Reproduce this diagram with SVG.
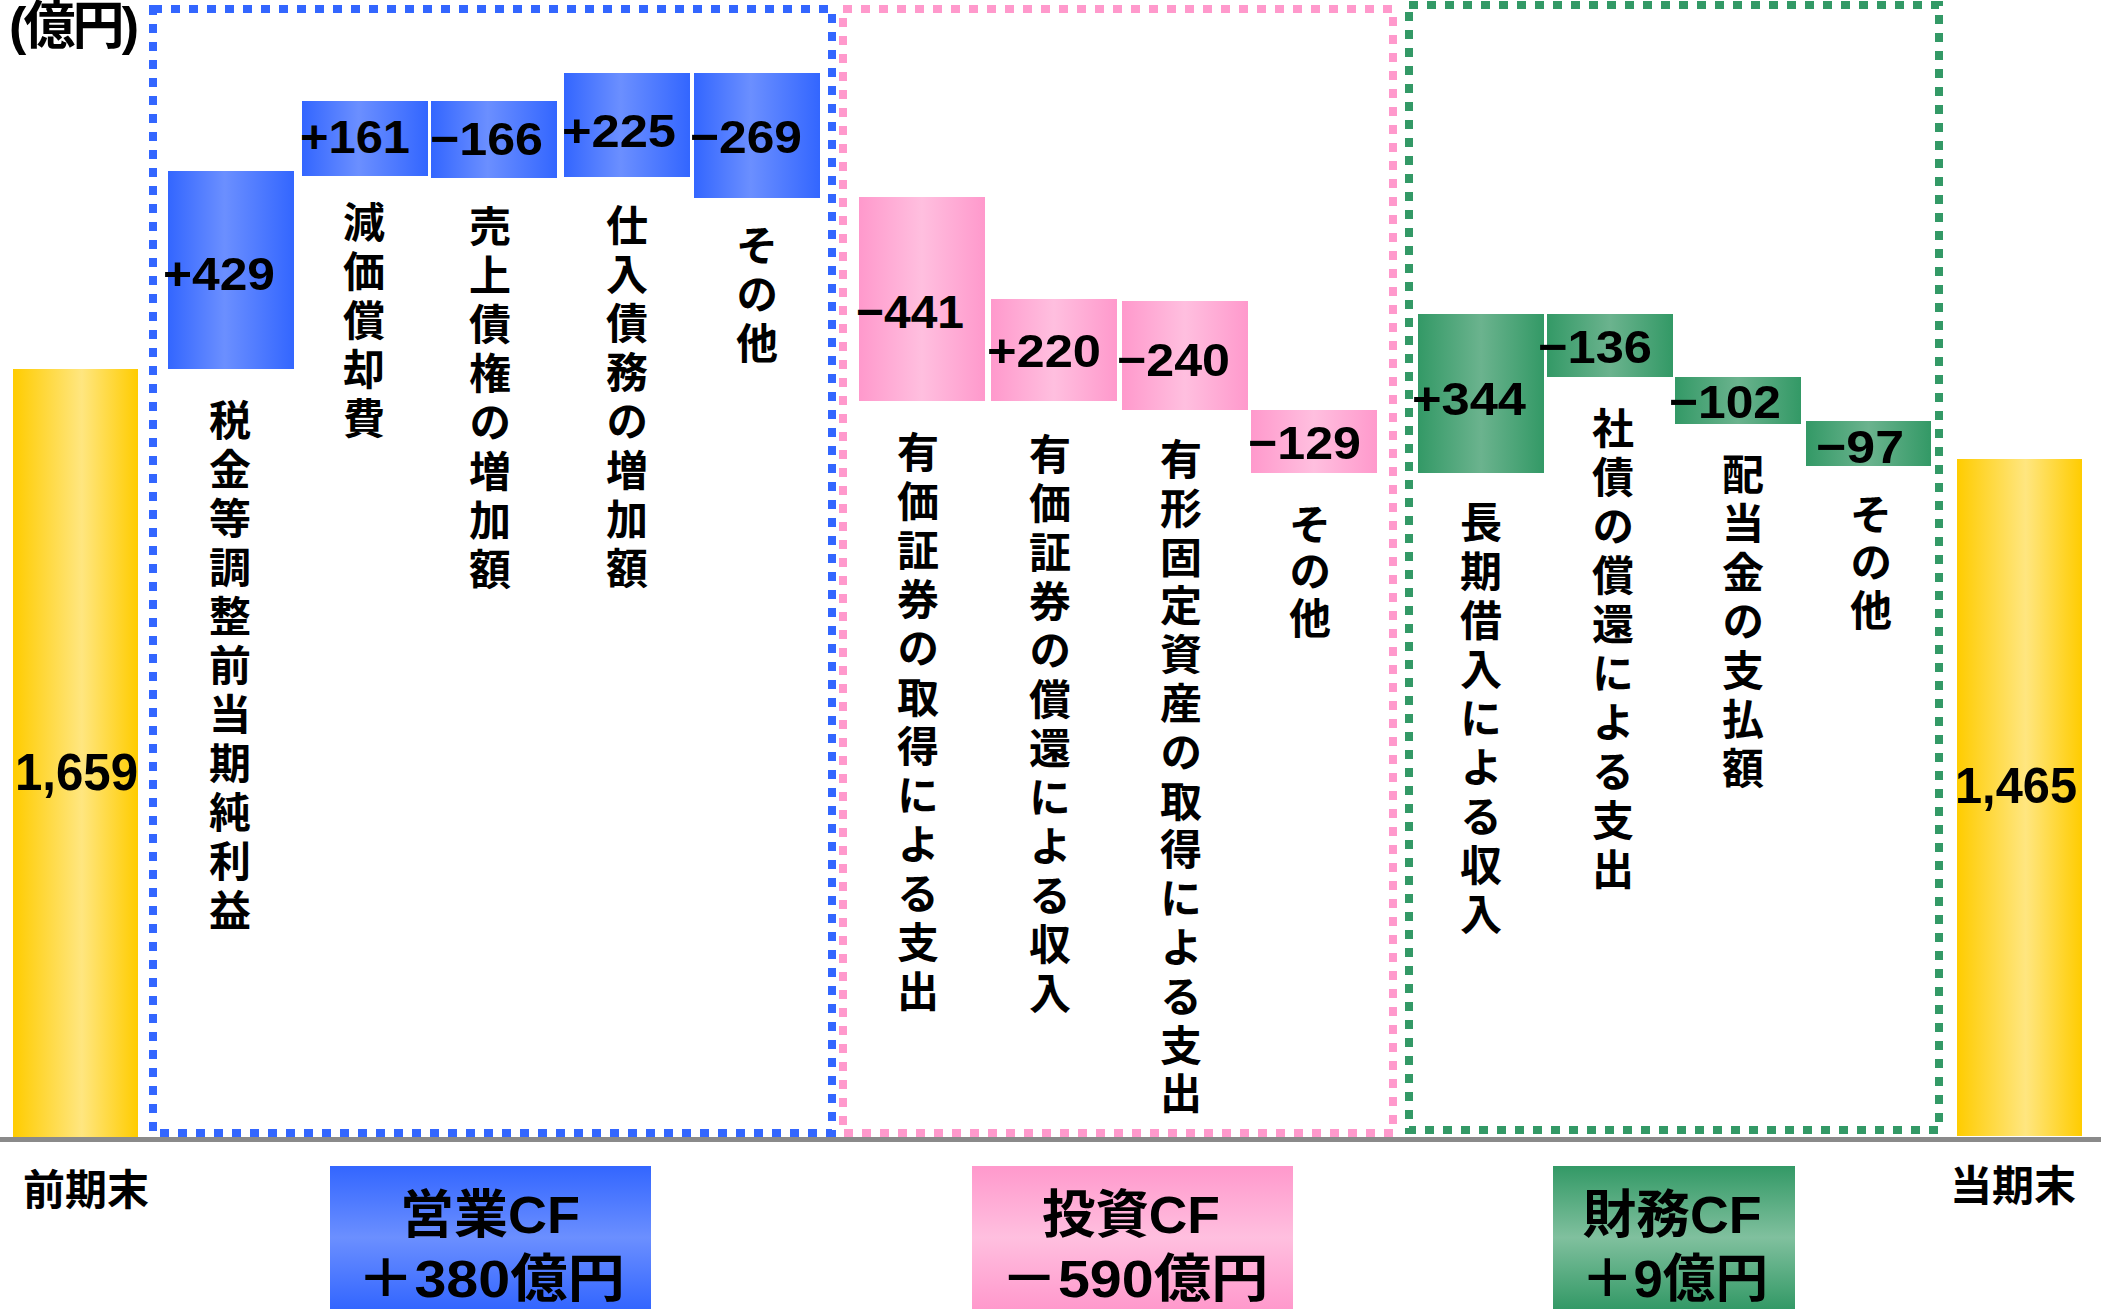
<svg xmlns="http://www.w3.org/2000/svg" width="2101" height="1309" viewBox="0 0 2101 1309">
<defs>
<linearGradient id="gBlueH" x1="0" y1="0" x2="1" y2="0"><stop offset="0" stop-color="#3366ff"/><stop offset="0.45" stop-color="#6b8fff"/><stop offset="1" stop-color="#3366ff"/></linearGradient>
<linearGradient id="gPinkH" x1="0" y1="0" x2="1" y2="0"><stop offset="0" stop-color="#ff99cc"/><stop offset="0.5" stop-color="#ffbfdf"/><stop offset="1" stop-color="#ff99cc"/></linearGradient>
<linearGradient id="gGreenH" x1="0" y1="0" x2="1" y2="0"><stop offset="0" stop-color="#339966"/><stop offset="0.5" stop-color="#6bb38e"/><stop offset="1" stop-color="#339966"/></linearGradient>
<linearGradient id="gYellowH" x1="0" y1="0" x2="1" y2="0"><stop offset="0" stop-color="#ffcc00"/><stop offset="0.55" stop-color="#ffe680"/><stop offset="1" stop-color="#ffcc00"/></linearGradient>
<linearGradient id="gBlueV" x1="0" y1="0" x2="0" y2="1"><stop offset="0" stop-color="#3366ff"/><stop offset="0.5" stop-color="#6b8fff"/><stop offset="1" stop-color="#3366ff"/></linearGradient>
<linearGradient id="gPinkV" x1="0" y1="0" x2="0" y2="1"><stop offset="0" stop-color="#ff99cc"/><stop offset="0.5" stop-color="#ffbfdf"/><stop offset="1" stop-color="#ff99cc"/></linearGradient>
<linearGradient id="gGreenV" x1="0" y1="0" x2="0" y2="1"><stop offset="0" stop-color="#339966"/><stop offset="0.5" stop-color="#80c09e"/><stop offset="1" stop-color="#339966"/></linearGradient>
</defs>
<style>
.frame{fill:none;stroke-width:8;stroke-dasharray:9 9}
.val{font-family:"Liberation Sans",Arial,sans-serif;font-weight:bold;font-size:47px;fill:#000}
.big{font-family:"Liberation Sans",Arial,sans-serif;font-weight:bold;fill:#000}
.vl{font-family:"Noto Sans CJK JP",sans-serif;font-weight:bold;font-size:42px;fill:#000;writing-mode:vertical-rl;letter-spacing:7px}
.lbl{font-family:"Noto Sans CJK JP",sans-serif;font-weight:bold;font-size:42px;fill:#000}
.sum{font-family:"Liberation Sans","Noto Sans CJK JP",sans-serif;font-weight:bold;font-size:52px;fill:#000}
</style>
<rect width="2101" height="1309" fill="#fff"/>

<g id="unit"><text class="sum" x="9" y="44" font-size="44" textLength="130" lengthAdjust="spacing">(億円)</text></g>

<g id="frames">
<rect id="frame-operating" class="frame" x="153" y="9" width="679" height="1124" stroke="#3366ff"/>
<rect id="frame-investing" class="frame" x="843" y="9" width="550" height="1124" stroke="#ff99cc"/>
<rect id="frame-financing" class="frame" x="1409" y="5" width="530" height="1125" stroke="#339966"/>
</g>

<g id="axis"><line x1="0" y1="1139.5" x2="2101" y2="1139.5" stroke="#8a8a8a" stroke-width="5"/></g>

<g id="start-balance">
<rect x="13" y="369" width="125" height="768" fill="url(#gYellowH)"/>
<text class="big" x="15" y="790" font-size="52" textLength="123" lengthAdjust="spacingAndGlyphs">1,659</text>
<text class="lbl" x="86" y="1205" text-anchor="middle">前期末</text>
</g>

<g id="op-pretax">
<rect x="168" y="171" width="126" height="198" fill="url(#gBlueH)"/>
<text class="val" x="163" y="290" textLength="112" lengthAdjust="spacingAndGlyphs">+429</text>
<text class="vl" x="230" y="399">税金等調整前当期純利益</text>
</g>

<g id="op-depreciation">
<rect x="302" y="101" width="126" height="75" fill="url(#gBlueH)"/>
<text class="val" x="300" y="153" textLength="110" lengthAdjust="spacingAndGlyphs">+161</text>
<text class="vl" x="364" y="201">減価償却費</text>
</g>

<g id="op-receivables">
<rect x="431" y="101" width="126" height="77" fill="url(#gBlueH)"/>
<text class="val" x="430" y="155" textLength="113" lengthAdjust="spacingAndGlyphs">−166</text>
<text class="vl" x="490" y="205">売上債権の増加額</text>
</g>

<g id="op-payables">
<rect x="564" y="73" width="126" height="104" fill="url(#gBlueH)"/>
<text class="val" x="562" y="147" textLength="114" lengthAdjust="spacingAndGlyphs">+225</text>
<text class="vl" x="627" y="204">仕入債務の増加額</text>
</g>

<g id="op-other">
<rect x="694" y="73" width="126" height="125" fill="url(#gBlueH)"/>
<text class="val" x="690" y="153" textLength="112" lengthAdjust="spacingAndGlyphs">−269</text>
<text class="vl" x="757" y="224">その他</text>
</g>

<g id="inv-acquisition">
<rect x="859" y="197" width="126" height="204" fill="url(#gPinkH)"/>
<text class="val" x="856" y="328" textLength="108" lengthAdjust="spacingAndGlyphs">−441</text>
<text class="vl" x="918" y="431">有価証券の取得による支出</text>
</g>

<g id="inv-redemption">
<rect x="991" y="299" width="126" height="102" fill="url(#gPinkH)"/>
<text class="val" x="987" y="367" textLength="114" lengthAdjust="spacingAndGlyphs">+220</text>
<text class="vl" x="1050" y="433">有価証券の償還による収入</text>
</g>

<g id="inv-fixed-assets">
<rect x="1122" y="301" width="126" height="109" fill="url(#gPinkH)"/>
<text class="val" x="1117" y="376" textLength="113" lengthAdjust="spacingAndGlyphs">−240</text>
<text class="vl" x="1181" y="438" style="letter-spacing:6.8px">有形固定資産の取得による支出</text>
</g>

<g id="inv-other">
<rect x="1251" y="410" width="126" height="63" fill="url(#gPinkH)"/>
<text class="val" x="1248" y="459" textLength="113" lengthAdjust="spacingAndGlyphs">−129</text>
<text class="vl" x="1310" y="503" style="letter-spacing:5px">その他</text>
</g>

<g id="fin-borrowing">
<rect x="1418" y="314" width="126" height="159" fill="url(#gGreenH)"/>
<text class="val" x="1412" y="415" textLength="114" lengthAdjust="spacingAndGlyphs">+344</text>
<text class="vl" x="1481" y="501">長期借入による収入</text>
</g>

<g id="fin-bonds">
<rect x="1547" y="314" width="126" height="63" fill="url(#gGreenH)"/>
<text class="val" x="1538" y="363" textLength="114" lengthAdjust="spacingAndGlyphs">−136</text>
<text class="vl" x="1613" y="407">社債の償還による支出</text>
</g>

<g id="fin-dividends">
<rect x="1675" y="377" width="126" height="47" fill="url(#gGreenH)"/>
<text class="val" x="1669" y="418" textLength="112" lengthAdjust="spacingAndGlyphs">−102</text>
<text class="vl" x="1743" y="453">配当金の支払額</text>
</g>

<g id="fin-other">
<rect x="1806" y="421" width="125" height="45" fill="url(#gGreenH)"/>
<text class="val" x="1816" y="463" textLength="88" lengthAdjust="spacingAndGlyphs">−97</text>
<text class="vl" x="1871" y="493" style="letter-spacing:6px">その他</text>
</g>

<g id="end-balance">
<rect x="1957" y="459" width="125" height="677" fill="url(#gYellowH)"/>
<text class="big" x="1955" y="803" font-size="50" textLength="122" lengthAdjust="spacingAndGlyphs">1,465</text>
<text class="lbl" x="2013" y="1201" text-anchor="middle">当期末</text>
</g>

<g id="sum-operating">
<rect x="330" y="1166" width="321" height="143" fill="url(#gBlueV)"/>
<text class="sum" x="490" y="1233" text-anchor="middle" textLength="180" lengthAdjust="spacingAndGlyphs">営業CF</text>
<text class="sum" x="491" y="1297" text-anchor="middle" textLength="268" lengthAdjust="spacingAndGlyphs">＋380億円</text>
</g>

<g id="sum-investing">
<rect x="972" y="1166" width="321" height="143" fill="url(#gPinkV)"/>
<text class="sum" x="1131" y="1233" text-anchor="middle" textLength="178" lengthAdjust="spacingAndGlyphs">投資CF</text>
<text class="sum" x="1134.5" y="1297" text-anchor="middle" textLength="268" lengthAdjust="spacingAndGlyphs">－590億円</text>
</g>

<g id="sum-financing">
<rect x="1553" y="1166" width="242" height="143" fill="url(#gGreenV)"/>
<text class="sum" x="1672" y="1233" text-anchor="middle" textLength="179" lengthAdjust="spacingAndGlyphs">財務CF</text>
<text class="sum" x="1674.5" y="1297" text-anchor="middle" textLength="187" lengthAdjust="spacingAndGlyphs">＋9億円</text>
</g>
</svg>
